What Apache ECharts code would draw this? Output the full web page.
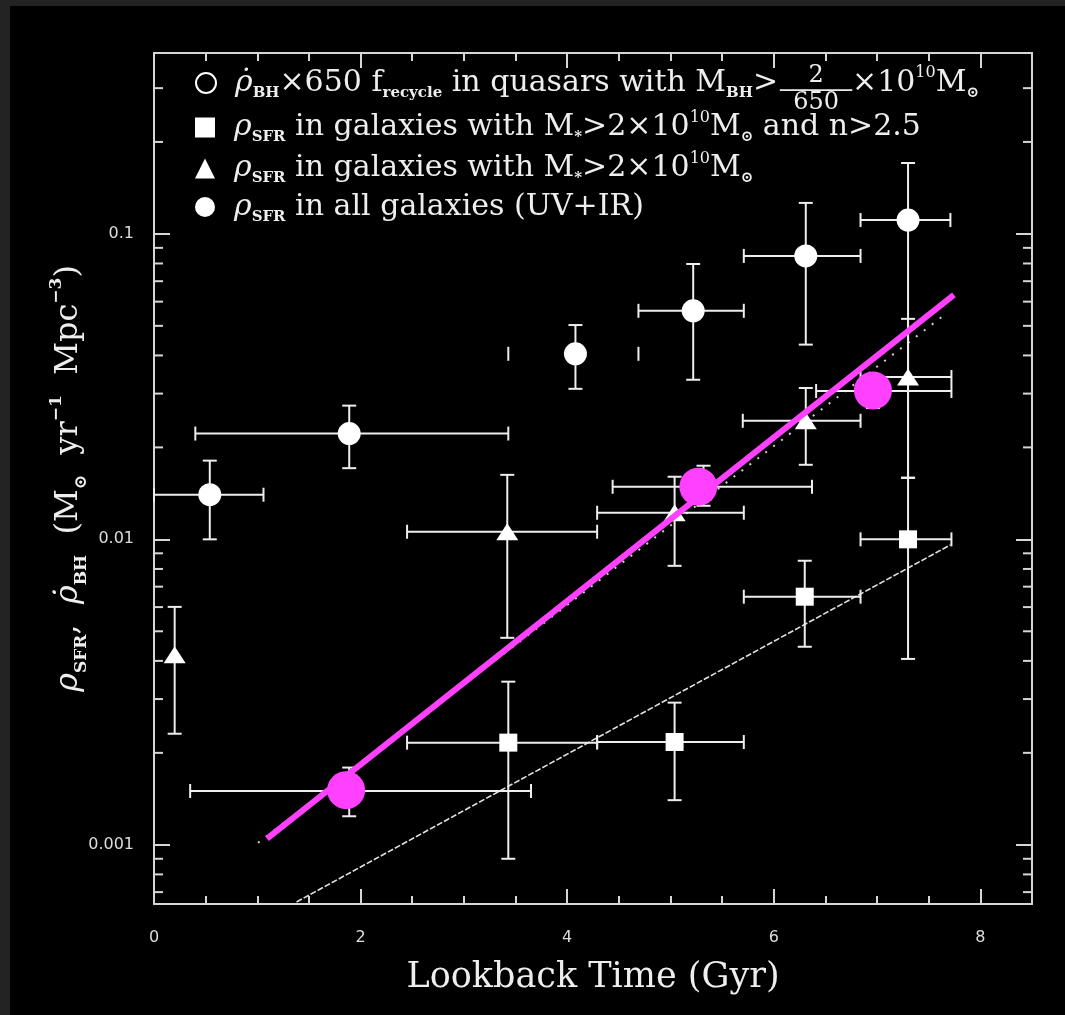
<!DOCTYPE html>
<html><head><meta charset="utf-8">
<script src="https://cdn.jsdelivr.net/npm/echarts@6/dist/echarts.min.js"></script>
<style>
html,body{margin:0;padding:0;background:#232323;width:1065px;height:1015px;overflow:hidden}
#c{position:absolute;left:10px;top:6px;width:1055px;height:1009px;background:#000}
</style></head><body><div id="c"></div>
<script>
// ---------------- data ----------------
const xTickLabels = ['0', '2', '4', '6', '8'];
const yTickLabels = ['0.001', '0.01', '0.1'];
const yMinorTicks = [0.0007, 0.0008, 0.0009,
  0.002, 0.003, 0.004, 0.005, 0.006, 0.007, 0.008, 0.009,
  0.02, 0.03, 0.04, 0.05, 0.06, 0.07, 0.08, 0.09,
  0.2, 0.3];
const xMin = 0, xMax = 8.5, yMin = 0.00064, yMax = 0.391;

// rho_SFR in all galaxies (UV+IR) - filled circles
const allX   = [0.54, 1.89, 4.08, 5.22, 6.31, 7.30];
const allY   = [0.0140, 0.0222, 0.0405, 0.0560, 0.0847, 0.111];
const allXLo = [0.00, 0.40, 3.43, 4.69, 5.71, 6.84];
const allXHi = [1.06, 3.43, 4.69, 5.71, 6.84, 7.71];
const allYLo = [0.0100, 0.0171, 0.0311, 0.0333, 0.0434, 0.0159];
const allYHi = [0.0181, 0.0274, 0.0503, 0.0797, 0.1263, 0.1706];
const allXBarDrawn = [1, 1, 0, 1, 1, 1];

// rho_SFR in galaxies with M* > 2e10 - triangles
const massX   = [0.20, 3.42, 5.04, 6.31, 7.30];
const massY   = [0.00419, 0.01059, 0.01222, 0.02444, 0.0340];
const massXLo = [0.20, 2.45, 4.29, 5.70, 6.84];
const massXHi = [0.20, 4.29, 5.71, 6.84, 7.72];
const massYLo = [0.00231, 0.00476, 0.00819, 0.01754, 0.0159];
const massYHi = [0.00601, 0.01626, 0.01603, 0.0313, 0.0527];

// rho_SFR in galaxies with M* > 2e10 and n > 2.5 - squares
const sphX   = [3.43, 5.04, 6.30, 7.30];
const sphY   = [0.00216, 0.00217, 0.00649, 0.0100];
const sphXLo = [2.45, 4.29, 5.71, 6.84];
const sphXHi = [4.29, 5.71, 6.84, 7.72];
const sphYLo = [0.000900, 0.00140, 0.00445, 0.00406];
const sphYHi = [0.00342, 0.00292, 0.00851, 0.0159];

// rho_BH x 650 f_recycle in quasars - open circles
const qsoX   = [1.89, 5.32, 6.96];
const qsoY   = [0.00150, 0.01486, 0.0306];
const qsoXLo = [0.35, 4.44, 6.41];
const qsoXHi = [3.65, 6.37, 7.72];
const qsoYLo = [0.00124, 0.01288, 0.0269];
const qsoYHi = [0.00179, 0.01742, 0.0345];

// magenta highlight markers and magenta line
const hlX = [1.86, 5.27, 6.96];
const hlY = [0.00151, 0.01486, 0.0307];
const fitX = [1.094, 7.744];
const fitY = [0.001047, 0.0631];

// white dotted and thin dashed lines
const dotX = [1.007, 7.64];
const dotY = [0.001015, 0.0539];
const thinX = [1.38, 7.71];
const thinY = [0.00065, 0.00959];

// ---------------- chart ----------------
const WHITE = '#eeeeee';
const AX = '#d6d6d6';
const MAG = '#ff40ff';
const SERIF = "'DejaVu Serif', serif";
const SANS = "'DejaVu Sans', sans-serif";

const NAME_QSO = 'qso', NAME_SPH = 'sph', NAME_MASS = 'mass', NAME_ALL = 'all';

function rows(X, Y, XL, XH, YL, YH, XB) {
  return X.map((x, i) => [x, Y[i], XL[i], XH[i], YL[i], YH[i], XB ? XB[i] : 1]);
}
function seg(x1, y1, x2, y2) {
  return {type: 'line', shape: {x1, y1, x2, y2}, style: {stroke: WHITE, lineWidth: 2}};
}
function errRender(params, api) {
  const x = api.value(0), y = api.value(1);
  const xl = api.value(2), xh = api.value(3), yl = api.value(4), yh = api.value(5);
  const xb = api.value(6);
  const c = api.coord([x, y]);
  const cap = 7;
  const ch = [];
  if (yl !== yh) {
    const a = api.coord([x, yl]), b = api.coord([x, yh]);
    ch.push(seg(c[0], a[1], c[0], b[1]));
    ch.push(seg(c[0] - cap, a[1], c[0] + cap, a[1]));
    ch.push(seg(c[0] - cap, b[1], c[0] + cap, b[1]));
  }
  if (xl !== xh) {
    const a = api.coord([xl, y]), b = api.coord([xh, y]);
    if (xb) ch.push(seg(a[0], c[1], b[0], c[1]));
    ch.push(seg(a[0], c[1] - cap, a[0], c[1] + cap));
    ch.push(seg(b[0], c[1] - cap, b[0], c[1] + cap));
  }
  return {type: 'group', children: ch};
}
function minorRender(params, api) {
  const cs = params.coordSys;
  const p = api.coord([xMin, api.value(1)]);
  const L = 9;
  return {type: 'group', children: [
    {type: 'line', shape: {x1: cs.x, y1: p[1], x2: cs.x + L, y2: p[1]}, style: {stroke: AX, lineWidth: 2}},
    {type: 'line', shape: {x1: cs.x + cs.width - L, y1: p[1], x2: cs.x + cs.width, y2: p[1]}, style: {stroke: AX, lineWidth: 2}}
  ]};
}
function errSeries(data) {
  return {type: 'custom', renderItem: errRender, data: data, encode: {x: 0, y: 1}, z: 3, silent: true, xAxisIndex: 0, yAxisIndex: 0};
}

// legend rich styles
const base = {fontFamily: SERIF, fontSize: 30, color: WHITE};
const rich = {
  sp: {width: 14},
  // item 1 (taller line)
  n1: Object.assign({}, base, {lineHeight: 46, verticalAlign: 'middle'}),
  g1: Object.assign({}, base, {fontStyle: 'italic', lineHeight: 46, verticalAlign: 'middle'}),
  sb1: {fontFamily: SERIF, fontSize: 15, fontWeight: 'bold', color: WHITE, lineHeight: 10, height: 26, verticalAlign: 'bottom'},
  sp1: {fontFamily: SERIF, fontSize: 16, color: WHITE, lineHeight: 10, height: 26, verticalAlign: 'top'},
  fs: {width: 38},
  fs2: {width: 36},
  fnum: {fontFamily: SERIF, fontSize: 24, color: WHITE, width: 0, align: 'center', lineHeight: 10, height: 32, verticalAlign: 'top'},
  fden: {fontFamily: SERIF, fontSize: 24, color: WHITE, width: 0, align: 'center', lineHeight: 10, height: 6, verticalAlign: 'bottom'},
  fbar: {fontFamily: "'DejaVu Sans Mono', monospace", fontSize: 20, color: WHITE, width: 0, align: 'center', lineHeight: 10, height: 29, verticalAlign: 'bottom'},
  // items 2-4
  n: Object.assign({}, base, {lineHeight: 35, verticalAlign: 'middle'}),
  g: Object.assign({}, base, {fontStyle: 'italic', lineHeight: 35, verticalAlign: 'middle'}),
  sb: {fontFamily: SERIF, fontSize: 15, fontWeight: 'bold', color: WHITE, lineHeight: 19, verticalAlign: 'bottom'},
  su: {fontFamily: SERIF, fontSize: 16, color: WHITE, lineHeight: 15, verticalAlign: 'top'}
};
const legendText = {};
legendText[NAME_QSO] = '{sp| }{g1|ρ̇}{sb1|BH}{n1|×650 f}{sb1|recycle}{n1| in quasars with M}{sb1|BH}{n1|>}{fs| }{fnum|2}{fden|650}{fbar|──────}{fs2| }{n1|×10}{sp1|10}{n1|M}{sb1|⊙}';
legendText[NAME_SPH] = '{sp| }{g|ρ}{sb|SFR}{n| in galaxies with M}{sb|*}{n|>2×10}{su|10}{n|M}{sb|⊙}{n| and n>2.5}';
legendText[NAME_MASS] = '{sp| }{g|ρ}{sb|SFR}{n| in galaxies with M}{sb|*}{n|>2×10}{su|10}{n|M}{sb|⊙}';
legendText[NAME_ALL] = '{sp| }{g|ρ}{sb|SFR}{n| in all galaxies (UV+IR)}';

const yRich = {
  n: {fontFamily: SERIF, fontSize: 32, color: WHITE, lineHeight: 42, verticalAlign: 'middle'},
  g: {fontFamily: SERIF, fontSize: 32, fontStyle: 'italic', color: WHITE, lineHeight: 42, verticalAlign: 'middle'},
  sb: {fontFamily: SERIF, fontSize: 17, fontWeight: 'bold', color: WHITE, lineHeight: 22, verticalAlign: 'bottom'},
  su: {fontFamily: SERIF, fontSize: 17, fontWeight: 'bold', color: WHITE, lineHeight: 18, verticalAlign: 'top'}
};
const yName = '{g|ρ}{sb|SFR}{n|,  }{g|ρ̇}{sb|BH}{n|  (M}{sb|⊙}{n|  yr}{su|−1}{n|  Mpc}{su|−3}{n|)}';

function yLabel(v) {
  const t = yTickLabels.find(s => Math.abs(Math.log10(+s) - Math.log10(v)) < 1e-6);
  return t || '';
}
function xLabel(v) {
  const t = xTickLabels.find(s => Math.abs(+s - v) < 1e-9);
  return t || '';
}

const xCommon = {
  type: 'value', min: xMin, max: xMax, interval: 2,
  axisLine: {show: true, onZero: false, lineStyle: {color: AX, width: 2}},
  axisTick: {show: true, inside: true, length: 15, lineStyle: {color: AX, width: 2}},
  minorTick: {show: true, splitNumber: 4, length: 8, lineStyle: {color: AX, width: 2}},
  splitLine: {show: false}, minorSplitLine: {show: false}
};
const yCommon = {
  type: 'log', logBase: 10, min: yMin, max: yMax,
  axisLine: {show: true, onZero: false, lineStyle: {color: AX, width: 2}},
  axisTick: {show: true, inside: true, length: 16, lineStyle: {color: AX, width: 2}},
  splitLine: {show: false}
};
const legendCommon = {
  orient: 'vertical', left: 185, padding: 0,
  itemWidth: 20, itemHeight: 20, selectedMode: false,
  formatter: name => legendText[name],
  textStyle: {color: WHITE, rich: rich}
};

const option = {
  backgroundColor: '#000',
  animation: false,
  grid: {left: 144, right: 33, top: 47, bottom: 111, containLabel: false},
  legend: [
    Object.assign({}, legendCommon, {top: 54, data: [NAME_QSO]}),
    Object.assign({}, legendCommon, {top: 104, itemGap: 6, data: [NAME_SPH, NAME_MASS, NAME_ALL]})
  ],
  xAxis: [
    Object.assign({}, xCommon, {
      position: 'bottom',
      axisLabel: {show: true, color: '#dddddd', fontFamily: SANS, fontSize: 16, margin: 26, formatter: xLabel},
      name: 'Lookback Time (Gyr)', nameLocation: 'middle', nameGap: 56, nameMoveOverlap: false,
      nameTextStyle: {fontFamily: SERIF, fontSize: 35, color: WHITE}
    }),
    Object.assign({}, xCommon, {position: 'top', axisLabel: {show: false}})
  ],
  yAxis: [
    Object.assign({}, yCommon, {
      position: 'left',
      axisLabel: {show: true, color: '#dddddd', fontFamily: SANS, fontSize: 16, margin: 20, formatter: yLabel},
      name: yName, nameLocation: 'middle', nameGap: 64, nameMoveOverlap: false,
      nameTextStyle: {rich: yRich}
    }),
    Object.assign({}, yCommon, {position: 'right', axisLabel: {show: false}})
  ],
  series: [
    {type: 'custom', renderItem: minorRender, data: yMinorTicks.map(v => [xMin, v]), encode: {x: 0, y: 1}, silent: true, z: 1},
    {type: 'line', data: thinX.map((x, i) => [x, thinY[i]]), symbol: 'none', z: 1, silent: true,
     lineStyle: {color: '#e0e0e0', width: 1.6, type: [6, 2]}},
    {type: 'line', data: dotX.map((x, i) => [x, dotY[i]]), symbol: 'none', z: 1, silent: true,
     lineStyle: {color: '#cfcfcf', width: 2, type: [2, 8]}},
    errSeries(rows(allX, allY, allXLo, allXHi, allYLo, allYHi, allXBarDrawn)),
    errSeries(rows(massX, massY, massXLo, massXHi, massYLo, massYHi)),
    errSeries(rows(sphX, sphY, sphXLo, sphXHi, sphYLo, sphYHi)),
    errSeries(rows(qsoX, qsoY, qsoXLo, qsoXHi, qsoYLo, qsoYHi)),
    {name: NAME_QSO, type: 'scatter', data: qsoX.map((x, i) => [x, qsoY[i]]), symbol: 'circle', symbolSize: 20, z: 4,
     itemStyle: {color: '#000', borderColor: '#ffffff', borderWidth: 2, opacity: 1}},
    {name: NAME_SPH, type: 'scatter', data: sphX.map((x, i) => [x, sphY[i]]), symbol: 'rect', symbolSize: 18, z: 4,
     itemStyle: {color: '#ffffff', opacity: 1}},
    {name: NAME_MASS, type: 'scatter', data: massX.map((x, i) => [x, massY[i]]), symbol: 'triangle', symbolSize: [22, 17], z: 4,
     itemStyle: {color: '#ffffff', opacity: 1}},
    {name: NAME_ALL, type: 'scatter', data: allX.map((x, i) => [x, allY[i]]), symbol: 'circle', symbolSize: 23, z: 4,
     itemStyle: {color: '#ffffff', opacity: 1}},
    {type: 'line', data: fitX.map((x, i) => [x, fitY[i]]), symbol: 'none', z: 6, silent: true,
     lineStyle: {color: MAG, width: 6, cap: 'butt'}},
    {type: 'scatter', data: hlX.map((x, i) => [x, hlY[i]]), symbol: 'circle', symbolSize: 38, z: 7, silent: true,
     itemStyle: {color: MAG, opacity: 1}}
  ]
};
const chart = echarts.init(document.getElementById('c'));
chart.setOption(option);
</script>
</body></html>
